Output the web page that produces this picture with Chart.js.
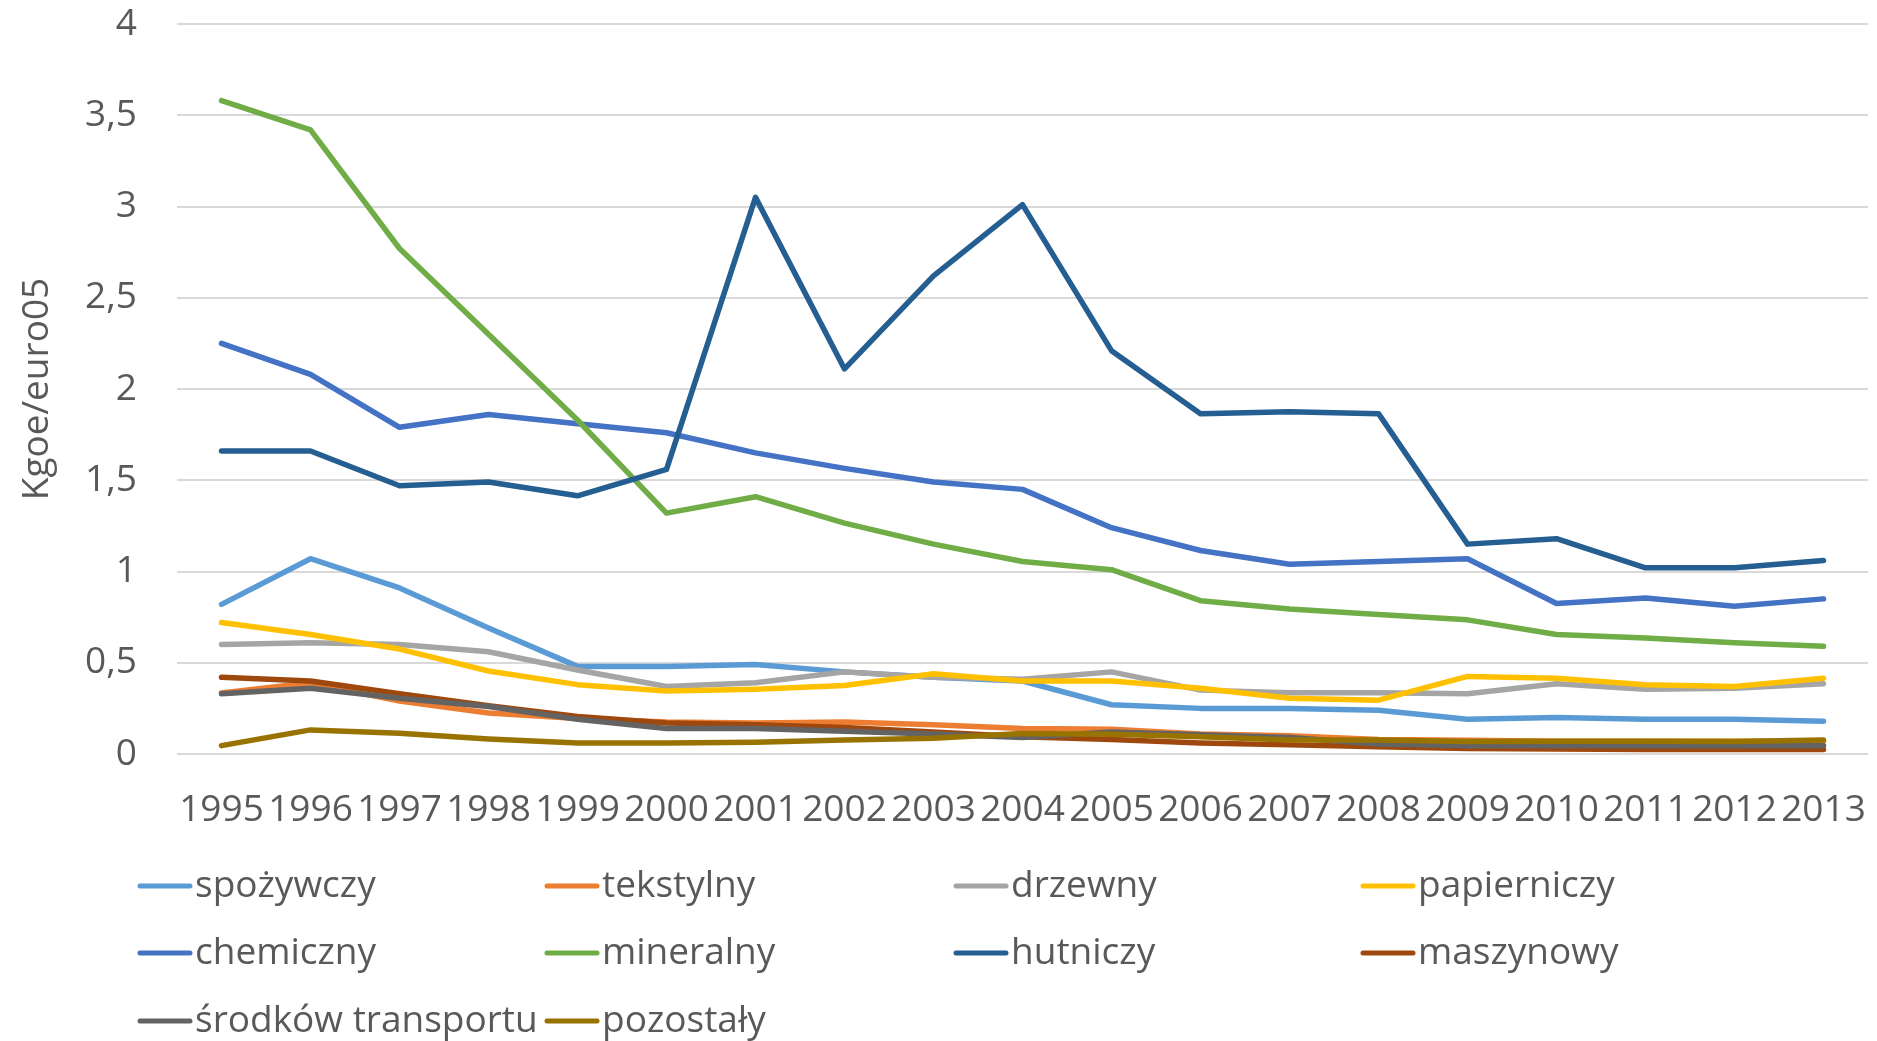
<!DOCTYPE html>
<html>
<head>
<meta charset="utf-8">
<script src="https://cdn.jsdelivr.net/npm/chart.js@4/dist/chart.umd.min.js"></script>
<style>
  html, body { margin: 0; padding: 0; background: #ffffff; }
  #wrap { width: 1877px; height: 1041px; position: relative; }
</style>
</head>
<body>
<div id="wrap"><canvas id="c" width="1877" height="1041"></canvas></div>
<script>
const years = ["1995","1996","1997","1998","1999","2000","2001","2002","2003","2004","2005","2006","2007","2008","2009","2010","2011","2012","2013"];
const yTicks = [0, 0.5, 1, 1.5, 2, 2.5, 3, 3.5, 4];
const seriesNames = ["spożywczy","tekstylny","drzewny","papierniczy","chemiczny","mineralny","hutniczy","maszynowy","środków transportu","pozostały"];

const spozywczy  = [0.82, 1.07, 0.91, 0.69, 0.48, 0.48, 0.49, 0.45, 0.42, 0.40, 0.27, 0.25, 0.25, 0.24, 0.19, 0.20, 0.19, 0.19, 0.18];
const tekstylny  = [0.335, 0.39, 0.29, 0.225, 0.195, 0.175, 0.17, 0.175, 0.16, 0.14, 0.135, 0.11, 0.10, 0.08, 0.075, 0.07, 0.07, 0.07, 0.07];
const drzewny    = [0.60, 0.61, 0.60, 0.56, 0.46, 0.37, 0.39, 0.45, 0.42, 0.41, 0.45, 0.35, 0.335, 0.335, 0.33, 0.385, 0.355, 0.36, 0.385];
const papierniczy= [0.72, 0.655, 0.575, 0.455, 0.38, 0.345, 0.355, 0.375, 0.44, 0.40, 0.40, 0.36, 0.305, 0.295, 0.425, 0.415, 0.38, 0.37, 0.415];
const chemiczny  = [2.25, 2.08, 1.79, 1.86, 1.81, 1.76, 1.65, 1.565, 1.49, 1.45, 1.24, 1.115, 1.04, 1.055, 1.07, 0.825, 0.855, 0.81, 0.85];
const mineralny  = [3.58, 3.42, 2.77, 2.30, 1.83, 1.32, 1.41, 1.265, 1.15, 1.055, 1.01, 0.84, 0.795, 0.765, 0.735, 0.655, 0.635, 0.61, 0.59];
const hutniczy   = [1.66, 1.66, 1.47, 1.49, 1.415, 1.56, 3.05, 2.11, 2.62, 3.01, 2.21, 1.865, 1.875, 1.865, 1.15, 1.18, 1.02, 1.02, 1.06];
const maszynowy  = [0.42, 0.40, 0.33, 0.265, 0.205, 0.17, 0.16, 0.145, 0.12, 0.095, 0.08, 0.06, 0.05, 0.04, 0.03, 0.027, 0.025, 0.024, 0.024];
const srodkowTransportu = [0.33, 0.36, 0.305, 0.26, 0.19, 0.14, 0.14, 0.125, 0.11, 0.09, 0.12, 0.105, 0.09, 0.055, 0.045, 0.045, 0.045, 0.045, 0.045];
const pozostaly  = [0.046, 0.132, 0.114, 0.082, 0.06, 0.06, 0.064, 0.077, 0.086, 0.112, 0.108, 0.095, 0.077, 0.077, 0.068, 0.07, 0.07, 0.068, 0.077];

const seriesData = [spozywczy, tekstylny, drzewny, papierniczy, chemiczny, mineralny, hutniczy, maszynowy, srodkowTransportu, pozostaly];
const colors = ["#5B9BD5","#ED7D31","#A5A5A5","#FFC000","#4472C4","#70AD47","#255E91","#9E480E","#636363","#997300"];

const FONT = "'Open Sans', 'Noto Sans', sans-serif";
const TEXT = "#595959";

const datasets = seriesNames.map((name, i) => ({
  label: name,
  data: seriesData[i],
  borderColor: colors[i],
  backgroundColor: colors[i],
  borderWidth: 5.5,
  pointRadius: 0,
  pointHoverRadius: 0,
  tension: 0,
  fill: false,
  borderCapStyle: 'round',
  borderJoinStyle: 'round',
  order: seriesNames.length - i
}));

const legendPlugin = {
  id: 'gridLegend',
  afterDraw(chart) {
    const ctx = chart.ctx;
    const colX = [138, 545, 954, 1361];
    const rowY = [886, 953, 1021];
    ctx.save();
    ctx.font = "37px " + FONT;
    ctx.textBaseline = 'middle';
    ctx.textAlign = 'left';
    chart.data.datasets.forEach((ds, i) => {
      const col = i % 4, row = Math.floor(i / 4);
      const x = colX[col], y = rowY[row];
      ctx.strokeStyle = ds.borderColor;
      ctx.lineWidth = 5;
      ctx.lineCap = 'round';
      ctx.beginPath();
      ctx.moveTo(x + 2, y);
      ctx.lineTo(x + 52, y);
      ctx.stroke();
      ctx.fillStyle = TEXT;
      ctx.fillText(ds.label, x + 57, y);
    });
    ctx.restore();
  }
};

new Chart(document.getElementById('c'), {
  type: 'line',
  data: { labels: years, datasets },
  options: {
    responsive: false,
    animation: false,
    events: [],
    layout: { autoPadding: false, padding: { top: 24, right: 9, bottom: 0, left: 0 } },
    plugins: { legend: { display: false }, tooltip: { enabled: false } },
    scales: {
      x: {
        offset: true,
        grid: { display: false, drawTicks: false },
        border: { display: false },
        ticks: {
          autoSkip: false, maxRotation: 0, minRotation: 0,
          color: TEXT, font: { family: FONT, size: 37 }, padding: 34
        },
        afterFit(scale) { scale.height = 287; scale.paddingLeft = 0; scale.paddingRight = 0; }
      },
      y: {
        min: 0, max: 4,
        afterBuildTicks(scale) { scale.ticks = yTicks.map(v => ({ value: v })); },
        grid: { color: "#D9D9D9", lineWidth: 2, drawTicks: false },
        border: { display: false },
        ticks: {
          color: TEXT, font: { family: FONT, size: 37 }, padding: 40,
          callback: v => String(v).replace('.', ',')
        },
        title: {
          display: true, text: 'Kgoe/euro05', color: TEXT,
          font: { family: FONT, size: 37 }, padding: { top: 15, bottom: 0 }
        },
        afterFit(scale) { scale.width = 177; scale.paddingTop = 0; scale.paddingBottom = 0; }
      }
    }
  },
  plugins: [legendPlugin]
});
</script>
</body>
</html>
